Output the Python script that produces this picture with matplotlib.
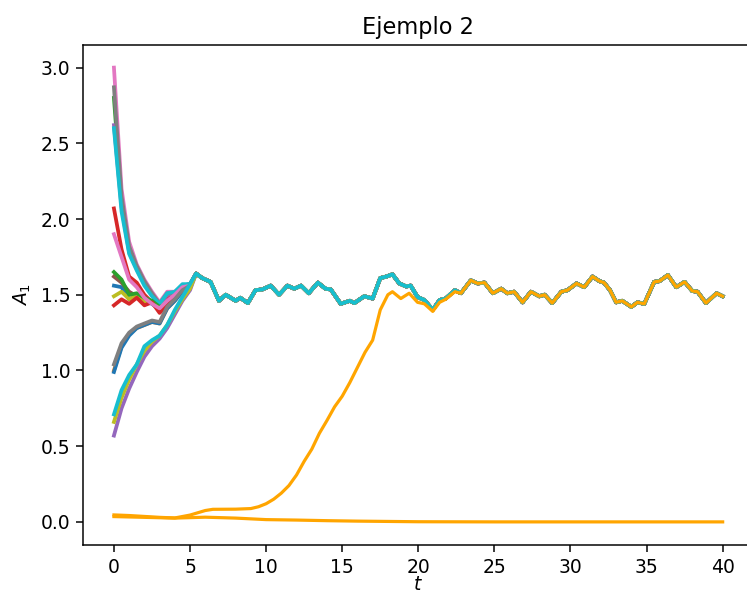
import matplotlib
matplotlib.use("Agg")
import matplotlib.pyplot as plt

# early-time samples shared by the tab10 trajectories
t_early = [0, 0.5, 1.0, 1.5, 2.0, 2.5, 3.0, 3.5, 4.0, 4.5, 5.0]

# individual early trajectories (value at each t_early)
early_curves = [
    ("tab:blue",   [1.56, 1.55, 1.47, 1.49, 1.46, 1.44, 1.40, 1.43, 1.48, 1.53, 1.56]),
    ("tab:orange", [1.00, 1.16, 1.24, 1.28, 1.30, 1.32, 1.31, 1.41, 1.46, 1.53, 1.56]),
    ("tab:green",  [2.80, 2.12, 1.80, 1.68, 1.58, 1.50, 1.43, 1.50, 1.51, 1.56, 1.57]),
    ("tab:red",    [2.07, 1.80, 1.62, 1.58, 1.50, 1.45, 1.40, 1.47, 1.50, 1.55, 1.56]),
    ("tab:purple", [2.62, 2.08, 1.78, 1.67, 1.57, 1.50, 1.43, 1.50, 1.51, 1.56, 1.57]),
    ("tab:brown",  [1.62, 1.58, 1.52, 1.49, 1.47, 1.45, 1.41, 1.44, 1.49, 1.54, 1.56]),
    ("tab:pink",   [3.00, 2.20, 1.85, 1.70, 1.60, 1.52, 1.45, 1.52, 1.52, 1.56, 1.57]),
    ("tab:gray",   [2.87, 2.15, 1.82, 1.69, 1.59, 1.51, 1.44, 1.51, 1.51, 1.56, 1.57]),
    ("tab:olive",  [1.49, 1.52, 1.47, 1.50, 1.45, 1.46, 1.40, 1.42, 1.48, 1.53, 1.55]),
    ("tab:cyan",   [2.60, 2.05, 1.77, 1.66, 1.56, 1.49, 1.44, 1.51, 1.52, 1.57, 1.57]),
    ("tab:blue",   [0.99, 1.15, 1.23, 1.28, 1.30, 1.32, 1.31, 1.41, 1.46, 1.52, 1.56]),
    ("tab:green",  [1.65, 1.60, 1.50, 1.51, 1.48, 1.46, 1.42, 1.44, 1.49, 1.54, 1.56]),
    ("tab:red",    [1.43, 1.47, 1.44, 1.48, 1.43, 1.45, 1.38, 1.43, 1.48, 1.53, 1.56]),
    ("tab:purple", [0.57, 0.75, 0.88, 0.99, 1.09, 1.16, 1.21, 1.28, 1.37, 1.46, 1.53]),
    ("tab:pink",   [1.90, 1.75, 1.60, 1.55, 1.48, 1.44, 1.41, 1.46, 1.50, 1.55, 1.56]),
    ("tab:gray",   [1.04, 1.18, 1.25, 1.29, 1.31, 1.33, 1.32, 1.42, 1.47, 1.53, 1.56]),
    ("tab:olive",  [0.66, 0.82, 0.94, 1.04, 1.13, 1.19, 1.23, 1.30, 1.39, 1.47, 1.54]),
    ("tab:cyan",   [0.71, 0.87, 0.97, 1.04, 1.16, 1.20, 1.23, 1.30, 1.40, 1.485, 1.57]),
]

# synchronized trajectory after convergence
t_sync = [5.4, 5.8, 6.35, 6.9, 7.35, 8.0, 8.3, 8.8, 9.3, 9.75, 10.3, 10.85, 11.4,
          11.85, 12.3, 12.8, 13.4, 13.9, 14.25, 14.9, 15.5, 15.8, 16.45, 17.0,
          17.5, 17.9, 18.3, 18.75, 19.2, 19.5, 19.95, 20.4, 20.95, 21.4, 21.8,
          22.4, 22.8, 23.45, 23.9, 24.35, 24.9, 25.45, 25.85, 26.3, 26.85, 27.4,
          27.95, 28.3, 28.8, 29.4, 29.8, 30.4, 30.9, 31.45, 31.9, 32.2, 32.6,
          33.0, 33.4, 34.0, 34.4, 34.85, 35.5, 35.85, 36.4, 36.95, 37.5, 38.0,
          38.35, 38.9, 39.6, 40.0]
a_sync = [1.64, 1.61, 1.585, 1.46, 1.50, 1.46, 1.48, 1.445, 1.53, 1.535, 1.56,
          1.50, 1.56, 1.54, 1.56, 1.51, 1.58, 1.54, 1.535, 1.44, 1.46, 1.445,
          1.49, 1.475, 1.61, 1.62, 1.635, 1.575, 1.555, 1.56, 1.485, 1.465, 1.40,
          1.465, 1.475, 1.53, 1.51, 1.595, 1.575, 1.58, 1.51, 1.54, 1.51, 1.52,
          1.45, 1.52, 1.49, 1.50, 1.445, 1.52, 1.53, 1.575, 1.55, 1.62, 1.59,
          1.58, 1.53, 1.45, 1.46, 1.42, 1.45, 1.44, 1.585, 1.59, 1.63, 1.55,
          1.585, 1.525, 1.52, 1.445, 1.51, 1.49]

# late-synchronizing orange trajectory (before joining the sync curve)
t_rise = [0, 1, 2, 3, 4, 5, 6, 6.5, 8, 9, 9.5, 10, 10.5, 11, 11.5, 12, 12.5, 13,
          13.5, 14, 14.5, 15, 15.5, 16, 16.5, 17, 17.5, 18, 18.3, 18.85, 19.4,
          19.95, 20.4, 20.95, 21.4, 21.8, 22.4]
a_rise = [0.046, 0.042, 0.036, 0.030, 0.026, 0.045, 0.075, 0.083, 0.084, 0.088,
          0.10, 0.12, 0.15, 0.19, 0.24, 0.31, 0.40, 0.48, 0.585, 0.67, 0.76,
          0.83, 0.92, 1.02, 1.12, 1.20, 1.40, 1.50, 1.52, 1.475, 1.51, 1.45,
          1.44, 1.39, 1.45, 1.47, 1.52]

# decaying orange trajectory
t_decay = [0, 2, 4, 6, 8, 10, 12, 14, 16, 18, 20, 25, 30, 35, 40]
a_decay = [0.035, 0.030, 0.025, 0.031, 0.025, 0.015, 0.012, 0.008, 0.005,
           0.003, 0.001, 0.0, 0.0, 0.0, 0.0]

W, H, DPI = 748, 596, 135
fig = plt.figure(figsize=(W / DPI, H / DPI), dpi=DPI)
ax = fig.add_axes([83.5 / W, (H - 544.6) / H, 669.6 / W, 499.7 / H])

for color, vals in early_curves:
    ax.plot(t_early + t_sync, vals + a_sync, color=color, lw=2.0,
            solid_joinstyle="round")

join = t_sync.index(22.8)
ax.plot(t_decay, a_decay, color="orange", lw=1.7)
ax.plot(t_rise + t_sync[join:], a_rise + a_sync[join:], color="orange", lw=1.7,
        solid_joinstyle="round")

ax.set_xlim(-2, 42)
ax.set_ylim(-0.15, 3.15)
ax.set_xticks([0, 5, 10, 15, 20, 25, 30, 35, 40])
ax.set_yticks([0.0, 0.5, 1.0, 1.5, 2.0, 2.5, 3.0])
ax.set_title("Ejemplo 2")
ax.set_xlabel("$t$", labelpad=-1)
ax.set_ylabel("$A_1$")

fig.savefig("out.png", dpi=DPI)
